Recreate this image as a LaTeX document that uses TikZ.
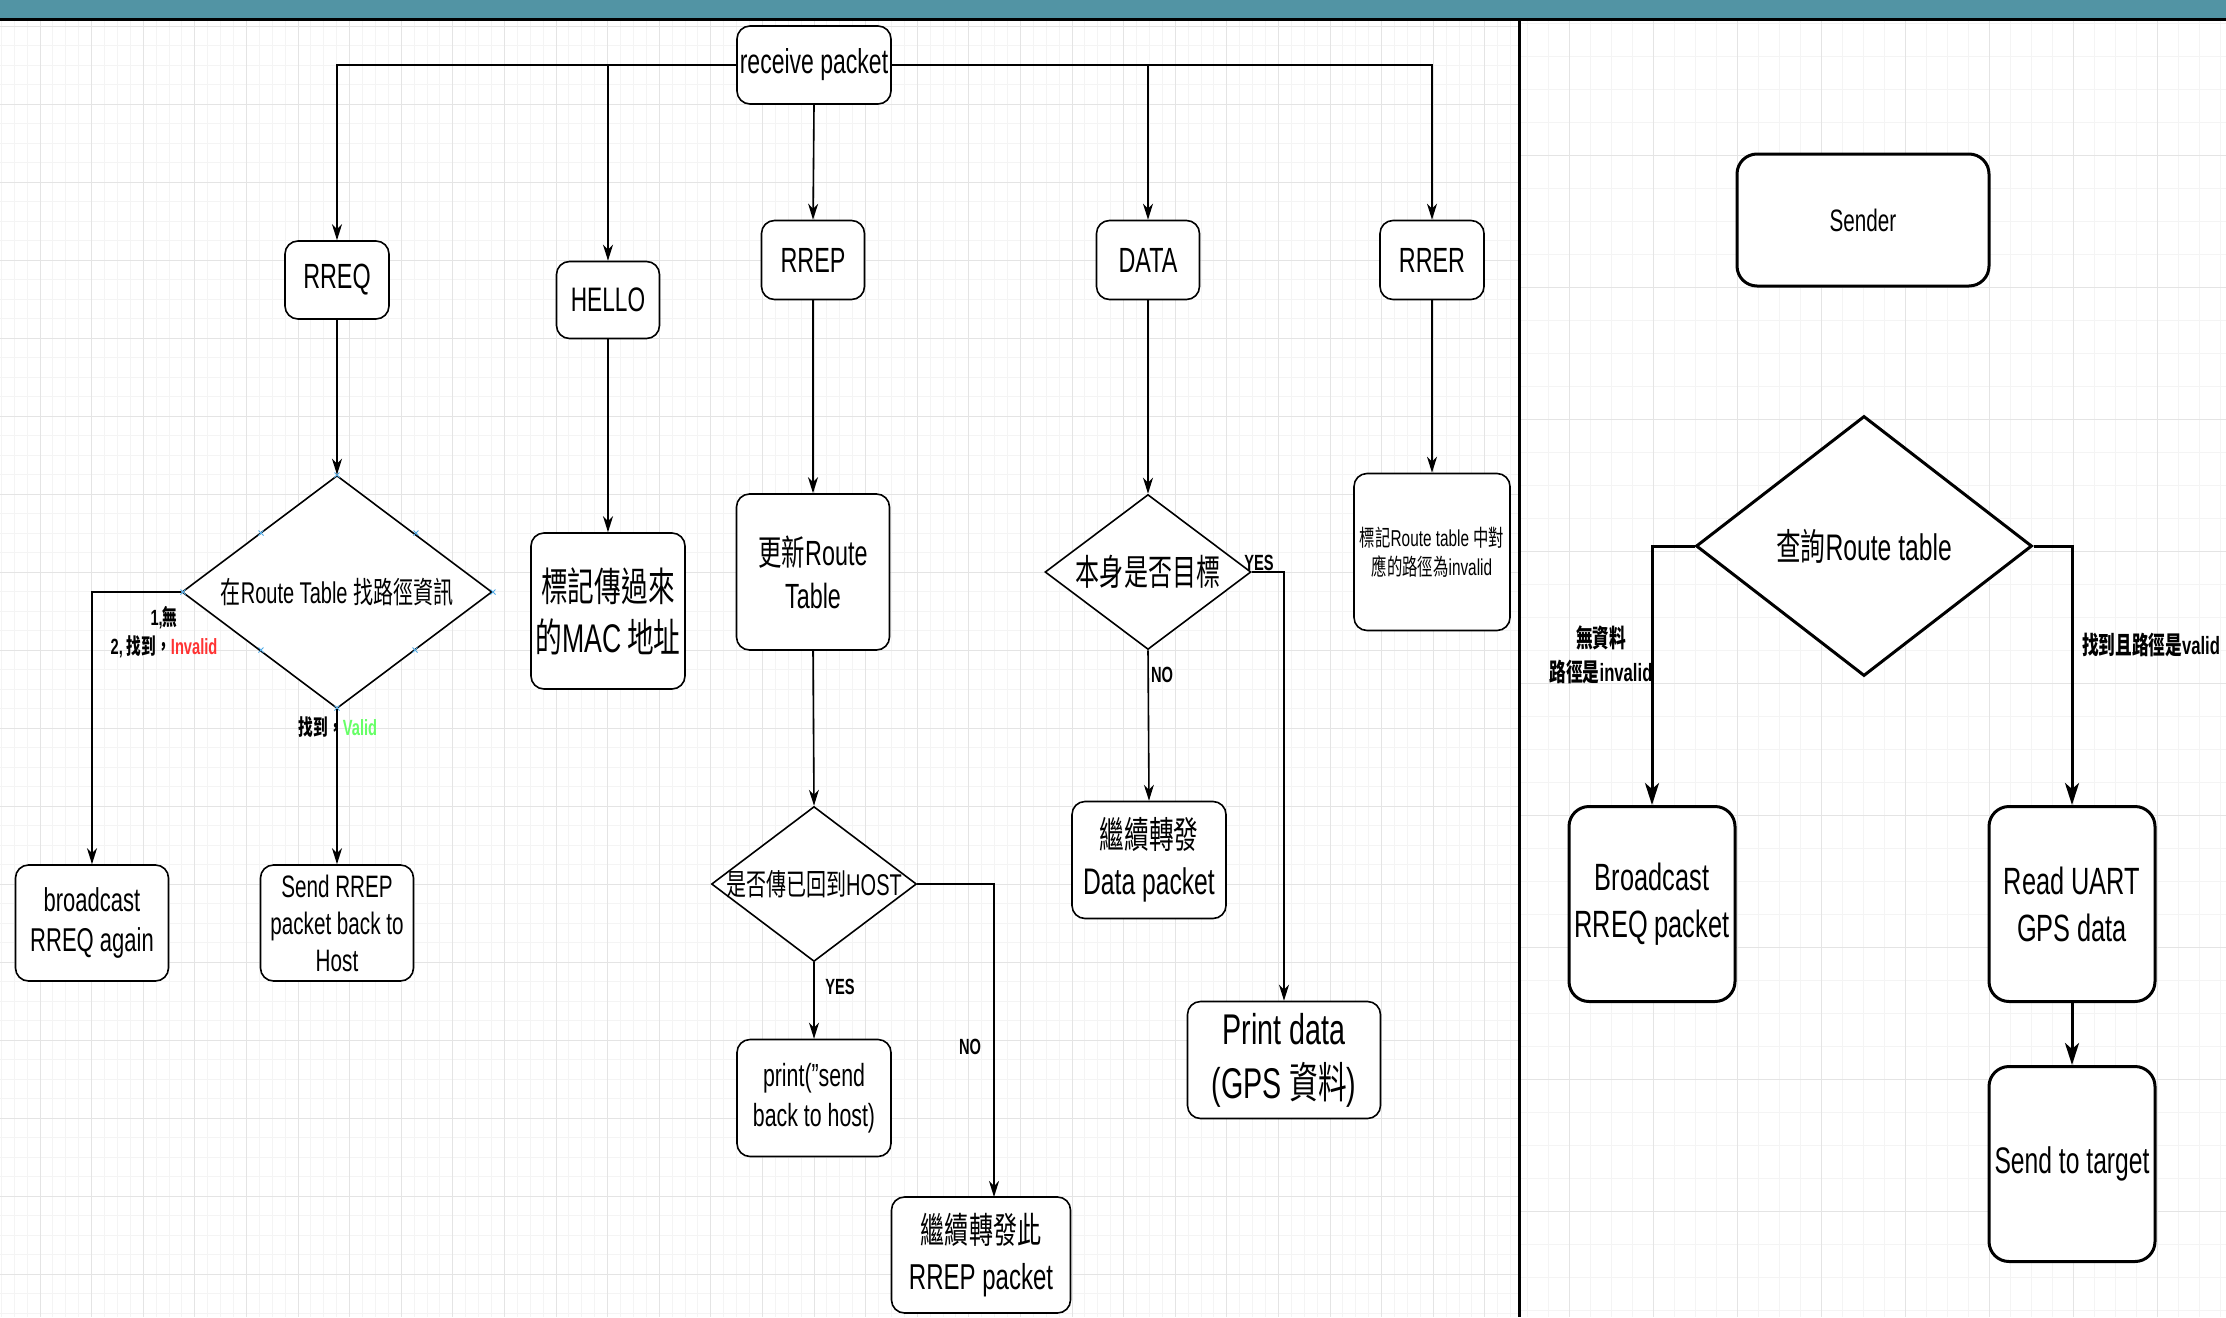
\documentclass[tikz,border=0pt]{standalone}
\usepackage{fontspec}
\setmainfont{Liberation Sans}[FakeStretch=0.667]
\newfontfamily\zh{Noto Sans CJK TC}[FakeStretch=0.667]
\usetikzlibrary{shapes.geometric,arrows.meta,calc}
\definecolor{topbar}{RGB}{82,148,164}
\definecolor{gminorc}{RGB}{244,244,244}
\definecolor{gmajorc}{RGB}{228,228,228}
\definecolor{invred}{RGB}{255,51,51}
\definecolor{valgreen}{RGB}{102,255,102}
\definecolor{ptblue}{RGB}{80,170,230}
\begin{document}
\begin{tikzpicture}[x=1pt,y=-1pt,
  box/.style={draw=black, line width=1.6pt, rounded corners=13pt, fill=white, inner sep=0pt, align=center},
  bigbox/.style={draw=black, line width=3pt, rounded corners=20pt, fill=white, inner sep=0pt, align=center},
  dia/.style={draw=black, diamond, line width=1.6pt, fill=white, inner sep=0pt},
  bigdia/.style={draw=black, diamond, line width=3pt, fill=white, inner sep=0pt},
  arr/.style={line width=1.6pt, -{Stealth[length=16pt,width=10pt,inset=5pt]}},
  barr/.style={line width=3pt, -{Stealth[length=22pt,width=14pt,inset=6pt]}},
  lbl/.style={font=\bfseries\fontsize{22}{26}\selectfont, inner sep=0pt},
  rlbl/.style={font=\bfseries\fontsize{25}{34}\selectfont, inner sep=0pt, align=center},
  gminor/.style={draw=gminorc, line width=1pt},
  gmajor/.style={draw=gmajorc, line width=1pt},
  pt/.style={draw=ptblue, line width=0.8pt}
]
\useasboundingbox (0,0) rectangle (2226,1317);
\fill[white] (0,0) rectangle (2226,1317);
% ---- grid, left panel
\foreach \k in {0,...,117} \draw[gminor] ({1.3+12.9*\k},20) -- ({1.3+12.9*\k},1317);
\foreach \k in {0,...,66} \draw[gminor] (0,{26+19.5*\k}) -- (1519,{26+19.5*\k});
\foreach \k in {0,...,28} \draw[gmajor] ({40+51.6*\k},20) -- ({40+51.6*\k},1317);
\foreach \k in {0,...,16} \draw[gmajor] (0,{26+78*\k}) -- (1519,{26+78*\k});
% ---- grid, right panel
\foreach \k in {0,...,33} \draw[gminor] ({1527+21*\k},20) -- ({1527+21*\k},1317);
\foreach \k in {0,...,39} \draw[gminor] (1519,{23+33*\k}) -- (2226,{23+33*\k});
\foreach \k in {0,...,7} \draw[gmajor] ({1569+84*\k},20) -- ({1569+84*\k},1317);
\foreach \k in {0,...,8} \draw[gmajor] (1519,{155+132*\k}) -- (2226,{155+132*\k});
% ---- frame
\fill[topbar] (0,0) rectangle (2226,18);
\draw[line width=3pt] (0,19.5) -- (2226,19.5);
\draw[line width=3pt] (1519,19.5) -- (1519,1317);

% ---- left flowchart
\node[box, minimum width=154pt, minimum height=78pt, font=\fontsize{34.5}{40}\selectfont] (rp) at (814,65) {receive packet};
\node[box, minimum width=104pt, minimum height=78pt, font=\fontsize{35}{40}\selectfont] (rreq) at (337,280) {RREQ};
\node[box, minimum width=103pt, minimum height=77pt, font=\fontsize{34}{40}\selectfont] (hello) at (608,300) {HELLO};
\node[box, minimum width=103pt, minimum height=79pt, font=\fontsize{35}{40}\selectfont] (rrep) at (813,260) {RREP};
\node[box, minimum width=103pt, minimum height=79pt, font=\fontsize{35}{40}\selectfont] (data) at (1148,260) {DATA};
\node[box, minimum width=104pt, minimum height=79pt, font=\fontsize{35}{40}\selectfont] (rrer) at (1432,260) {RRER};

\node[dia, minimum width=310pt, minimum height=233pt] (d1) at (337,592) {};
\node[font=\fontsize{30}{36}\selectfont, inner sep=0pt] (d1t) at (d1.center) {{\zh 在}Route Table {\zh 找路徑資訊}};
\foreach \p in {(337,475),(183,592),(493,592),(337,708),(261,533),(416,533),(261,650),(415,650)}
  \draw[pt] \p ++(-2.5,-2.5) -- ++(5,5) \p ++(-2.5,2.5) -- ++(5,-5);

\node[box, minimum width=153pt, minimum height=116pt, font=\fontsize{33}{40}\selectfont] (bcast) at (92,923) {broadcast\\RREQ again};
\node[box, minimum width=153pt, minimum height=116pt, font=\fontsize{31}{37}\selectfont] (sendrrep) at (337,923) {Send RREP\\packet back to\\Host};
\node[box, minimum width=154pt, minimum height=156pt, font=\zh\fontsize{40}{51}\selectfont] (mac) at (608,611) {標記傳過來\\的{\rmfamily MAC} 地址};
\node[box, minimum width=153pt, minimum height=156pt, font=\fontsize{35}{43}\selectfont] (upd) at (813,572) {{\zh 更新}Route\\Table};

\node[dia, minimum width=205pt, minimum height=155pt] (d2) at (814,884) {};
\node[font=\fontsize{30}{36}\selectfont, inner sep=0pt] (d2t) at (d2.center) {{\zh 是否傳已回到}HOST};
\node[box, minimum width=154pt, minimum height=117pt, font=\fontsize{32}{40}\selectfont] (print) at (814,1098) {print("send\\back to host)};
\node[box, minimum width=179pt, minimum height=116pt, font=\fontsize{36}{46}\selectfont] (rrepfwd) at (981,1255) {{\zh 繼續轉發此}\\RREP packet};
\coordinate (nohit) at (994,1197);

\node[dia, minimum width=206pt, minimum height=155pt] (d3) at (1148,572) {};
\node[font=\zh\fontsize{36}{40}\selectfont, inner sep=0pt] (d3t) at (d3.center) {本身是否目標};
\node[box, minimum width=154pt, minimum height=117pt, font=\fontsize{37}{46}\selectfont] (datafwd) at (1149,860) {{\zh 繼續轉發}\\Data packet};
\node[box, minimum width=193pt, minimum height=117pt, font=\fontsize{43}{54}\selectfont] (printdata) at (1284,1060) {Print data\\(GPS {\zh 資料})};
\node[box, minimum width=156pt, minimum height=157pt, font=\fontsize{23}{29}\selectfont] (mark) at (1432,552) {{\zh 標記}Route table {\zh 中對}\\{\zh 應的路徑為}invalid};

% ---- left connectors
\draw[arr] (rp.west) -| (rreq.north);
\draw[arr] (rp.west) -| (hello.north);
\draw[arr] (rp.south) -- (rrep.north);
\draw[arr] (rp.east) -| (data.north);
\draw[arr] (rp.east) -| (rrer.north);
\draw[arr] (rreq.south) -- (d1.north);
\draw[arr] (d1.west) -| (bcast.north);
\draw[arr] (d1.south) -- (sendrrep.north);
\draw[arr] (hello.south) -- (mac.north);
\draw[arr] (rrep.south) -- (upd.north);
\draw[arr] (upd.south) -- (d2.north);
\draw[arr] (d2.south) -- (print.north);
\draw[arr] (d2.east) -| (nohit);
\draw[arr] (data.south) -- (d3.north);
\draw[arr] (d3.south) -- (datafwd.north);
\draw[arr] (d3.east) -| (printdata.north);
\draw[arr] (rrer.south) -- (mark.north);

% ---- left labels
\node[lbl] (l1) at (164,618) {1,{\zh 無}};
\node[lbl] (l2) at (164,647) {2, {\zh 找到，}\textcolor{invred}{Invalid}};
\node[lbl] (l3) at (338,727) {{\zh 找到，}\textcolor{valgreen}{Valid}};
\node[lbl] (l4) at (840,987) {YES};
\node[lbl] (l5) at (970,1047) {NO};
\node[lbl] (l6) at (1259,563) {YES};
\node[lbl] (l7) at (1162,675) {NO};

% ---- right flowchart
\node[bigbox, minimum width=252pt, minimum height=132pt, font=\fontsize{31}{38}\selectfont] (sender) at (1863,220) {Sender};
\node[bigdia, minimum width=336pt, minimum height=260pt] (d4) at (1864,546) {};
\node[font=\fontsize{37}{44}\selectfont, inner sep=0pt] (d4t) at (d4.center) {{\zh 查詢}Route table};
\node[bigbox, minimum width=166pt, minimum height=195pt, font=\fontsize{38}{47}\selectfont] (bc2) at (1652,904) {Broadcast\\RREQ packet};
\node[bigbox, minimum width=166pt, minimum height=195pt, font=\fontsize{38}{47}\selectfont] (uart) at (2072,904) {Read UART\\GPS data};
\node[bigbox, minimum width=166pt, minimum height=195pt, font=\fontsize{37}{44}\selectfont] (send) at (2072,1164) {Send to target};

\draw[barr] (d4.west) -| (bc2.north);
\draw[barr] (d4.east) -| (uart.north);
\draw[barr] (uart.south) -- (send.north);

\node[rlbl] (r1) at (1601,655) {{\zh 無資料}\\{\zh 路徑是}invalid};
\node[rlbl] (r2) at (2151,645) {{\zh 找到且路徑是}valid};
\end{tikzpicture}
\end{document}
